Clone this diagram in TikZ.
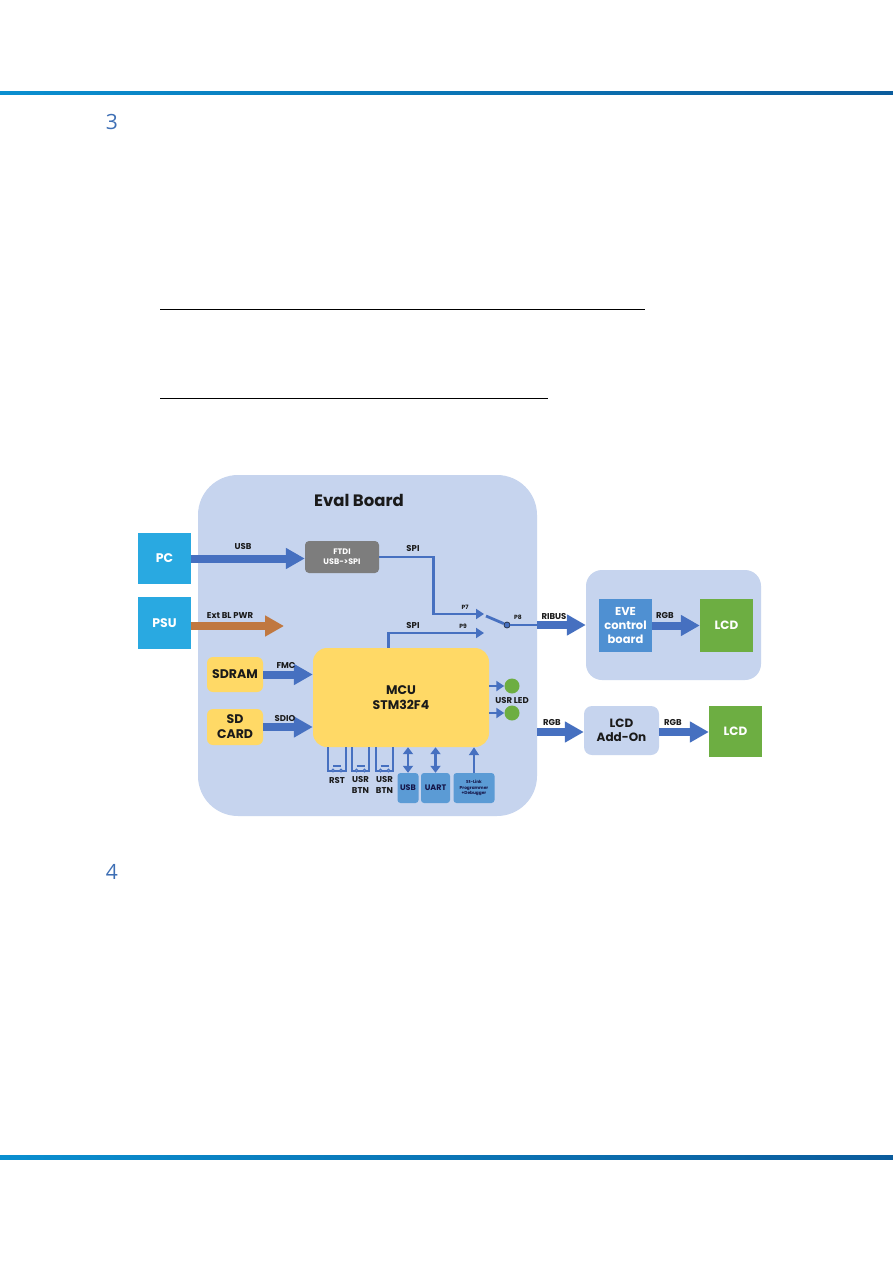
\documentclass[tikz,border=0pt]{standalone}
\usepackage{fontspec}
\setmainfont{Poppins}
\newfontfamily\osans{Open Sans}
\usetikzlibrary{arrows.meta}
\definecolor{boardc}{HTML}{C6D4EE}
\definecolor{pcc}{HTML}{29A9E1}
\definecolor{arrc}{HTML}{4670C0}
\definecolor{orangec}{HTML}{C07840}
\definecolor{grayc}{HTML}{7D7D7D}
\definecolor{yellowc}{HTML}{FFD966}
\definecolor{greenc}{HTML}{6DAE42}
\definecolor{evec}{HTML}{4F90D2}
\definecolor{smallc}{HTML}{5B9BD5}
\definecolor{txtc}{HTML}{1A1A1A}
\definecolor{numc}{HTML}{3E6FB5}
\definecolor{lineA}{HTML}{0A8FD0}
\definecolor{lineB}{HTML}{0B5C9C}
\newcommand{\setfs}[2]{\fontsize{#1}{#2}\selectfont}
\tikzset{
  fatarrow/.style={line width=8pt, draw=arrc, -{Triangle[length=19pt,width=20pt]}},
  fatorange/.style={line width=8pt, draw=orangec, -{Triangle[length=19pt,width=20pt]}},
  thinline/.style={line width=2.8pt, draw=arrc},
  thinarrow/.style={thinline, -{Triangle[length=8pt,width=10pt]}},
  bothArrow/.style={thinline, {Triangle[length=7pt,width=10pt]}-{Triangle[length=7pt,width=10pt]}},
  extbox/.style={fill=pcc, text=white, inner sep=0pt, font=\bfseries\setfs{12.5}{14}},
  yelbox/.style={fill=yellowc, rounded corners=6pt, text=txtc, inner sep=0pt, align=center, font=\bfseries\setfs{12.5}{15}},
  lcdbox/.style={fill=greenc, text=white, inner sep=0pt, font=\bfseries\setfs{12}{14}},
  smallbox/.style={fill=smallc, rounded corners=3pt, inner sep=0pt, text=txtc!80!blue, align=center},
  lbl/.style={text=txtc, inner sep=0pt, font=\bfseries\setfs{8.5}{10}},
  plbl/.style={text=txtc, inner sep=0pt, font=\bfseries\setfs{6}{7}},
  led/.style={circle, fill=greenc, minimum size=15pt, inner sep=0pt},
  swline/.style={draw=arrc, line width=1.1pt},
}
\begin{document}
\begin{tikzpicture}[x=1pt,y=-1pt]
\useasboundingbox (0,0) rectangle (893,1263);
\fill[white] (0,0) rectangle (893,1263);
% page decorations
\shade[left color=lineA, right color=lineB] (0,91) rectangle (893,94.5);
\shade[left color=lineA, right color=lineB] (0,1155.8) rectangle (893,1159.3);
\node[text=numc, font=\osans\setfs{21}{24}] (n3) at (112,122) {3};
\node[text=numc, font=\osans\setfs{21}{24}] (n4) at (112,872) {4};
\draw[line width=1pt, black] (160,309) -- (645,309);
\draw[line width=1pt, black] (160,398) -- (548,398);

% eval board
\node[fill=boardc, rounded corners=40pt, minimum width=339pt, minimum height=341pt, inner sep=0pt] (board) at (367.5,645.5) {};
\node[text=txtc, font=\bfseries\setfs{16.5}{18}] (title) at (359,500) {Eval Board};

% external boxes
\node[extbox, minimum width=53pt, minimum height=51pt] (pc) at (164.5,558.5) {PC};
\node[extbox, minimum width=53pt, minimum height=52pt] (psu) at (164.5,623) {PSU};

% FTDI
\node[fill=grayc, rounded corners=4pt, minimum width=74pt, minimum height=32pt, inner sep=0pt, text=white, align=center, font=\bfseries\setfs{8}{10}] (ftdi) at (342,557) {FTDI\\USB-{}>SPI};

% MCU and memory
\node[yelbox, rounded corners=14pt, minimum width=176pt, minimum height=99pt] (mcu) at (401,697.5) {MCU\\STM32F4};
\node[yelbox, minimum width=56pt, minimum height=35pt] (sdram) at (235,674.5) {SDRAM};
\node[yelbox, minimum width=56pt, minimum height=36pt] (sd) at (235,727) {SD\\CARD};

% EVE group
\node[fill=boardc, rounded corners=16pt, minimum width=175pt, minimum height=110pt, inner sep=0pt] (eveout) at (673.5,625) {};
\node[fill=evec, minimum width=53pt, minimum height=53pt, inner sep=0pt, text=white, align=center, font=\bfseries\setfs{11.5}{14}] (eve) at (625.5,625.5) {EVE\\control\\board};
\node[lcdbox, minimum width=53pt, minimum height=53pt] (lcd1) at (726.5,625.5) {LCD};
\node[fill=boardc, rounded corners=8pt, minimum width=75pt, minimum height=49pt, inner sep=0pt, text=txtc, align=center, font=\bfseries\setfs{12}{14.5}] (addon) at (621.5,730.5) {LCD\\Add-On};
\node[lcdbox, minimum width=53pt, minimum height=51pt] (lcd2) at (735.5,731.5) {LCD};

% fat arrows
\draw[fatarrow] (pc.east) -- (ftdi.west |- pc.east);
\node[lbl] (lusb) at (243,546) {USB};
\coordinate (pwrend) at (284,626);
\draw[fatorange] (psu.east |- pwrend) -- (pwrend);
\node[lbl] (lpwr) at (230,616) {Ext BL PWR};
\draw[fatarrow] (sdram.east) -- (mcu.west |- sdram.east);
\node[lbl] (lfmc) at (286,665) {FMC};
\draw[fatarrow] (sd.east) -- (mcu.west |- sd.east);
\node[lbl] (lsdio) at (285,718) {SDIO};

% SPI paths and switch
\coordinate (p7) at (484,614);
\coordinate (p9) at (484,633);
\draw[thinarrow] (ftdi.east) -- ++(54,0) |- (p7);
\node[lbl] (lspi1) at (413,548) {SPI};
\node[plbl] (lp7) at (465,607) {P7};
\draw[thinarrow] ([xshift=76pt]mcu.north west) |- (p9);
\node[lbl] (lspi2) at (413,625) {SPI};
\node[plbl] (lp9) at (463,626) {P9};
\node[circle, draw=txtc!70!arrc, fill=arrc, line width=0.8pt, minimum size=6pt, inner sep=0pt] (p8) at (507,625) {};
\coordinate (swend) at (486,616);
\draw[thinline] (swend) -- (p8);
\coordinate (rib) at (537,625);
\draw[thinline] (p8) -- (rib);
\node[plbl] (lp8) at (518,617) {P8};
\draw[fatarrow] (rib) -- (eveout.west |- rib);
\node[lbl] (lrib) at (554,616) {RIBUS};
\draw[fatarrow] (eve.east) -- (lcd1.west);
\node[lbl] (lrgb1) at (665,615) {RGB};
\coordinate (rgbstart) at (537,732);
\draw[fatarrow] (rgbstart) -- (addon.west |- rgbstart);
\node[lbl] (lrgb2) at (552,722) {RGB};
\draw[fatarrow] (addon.east |- rgbstart) -- (lcd2.west |- rgbstart);
\node[lbl] (lrgb3) at (673,722) {RGB};

% LEDs
\node[led] (led1) at (512,686) {};
\node[led] (led2) at (512,713) {};
\draw[thinarrow] (mcu.east |- led1) -- (led1.west);
\draw[thinarrow] (mcu.east |- led2) -- (led2.west);
\node[lbl] (lled) at (512,700) {USR LED};

% switches
\foreach \xl/\xr in {328/346, 352/369, 376/393}{
  \draw[swline] (\xl,747) -- (\xl,771) -- (\xr,771) -- (\xr,747);
  \draw[swline] ({(\xl+\xr)/2-4},766) -- ({(\xl+\xr)/2+4},766);
  \draw[swline, fill=boardc] ({(\xl+\xr)/2-4},770.5) circle (1.3pt);
  \draw[swline, fill=boardc] ({(\xl+\xr)/2+4},770.5) circle (1.3pt);
}
\node[lbl, align=center] (lrst) at (337,780) {RST};
\node[lbl, align=center, font=\bfseries\setfs{8.5}{11}] (lbtn1) at (360.5,784.5) {USR\\BTN};
\node[lbl, align=center, font=\bfseries\setfs{8.5}{11}] (lbtn2) at (384.5,784.5) {USR\\BTN};

% bottom interface boxes
\node[smallbox, minimum width=21pt, minimum height=30pt, font=\bfseries\setfs{8}{9}] (usbb) at (408,788) {USB};
\node[smallbox, minimum width=29pt, minimum height=30pt, font=\bfseries\setfs{8}{9}] (uart) at (435.5,788) {UART};
\node[smallbox, minimum width=41pt, minimum height=30pt, font=\bfseries\setfs{4.3}{5.5}] (stl) at (474,788) {St-Link\\Programmer\\+Debugger};
\draw[bothArrow] (usbb.north) -- (usbb.north |- mcu.south);
\draw[bothArrow] (uart.north) -- (uart.north |- mcu.south);
\draw[thinarrow] (stl.north) -- (stl.north |- mcu.south);
\end{tikzpicture}
\end{document}
